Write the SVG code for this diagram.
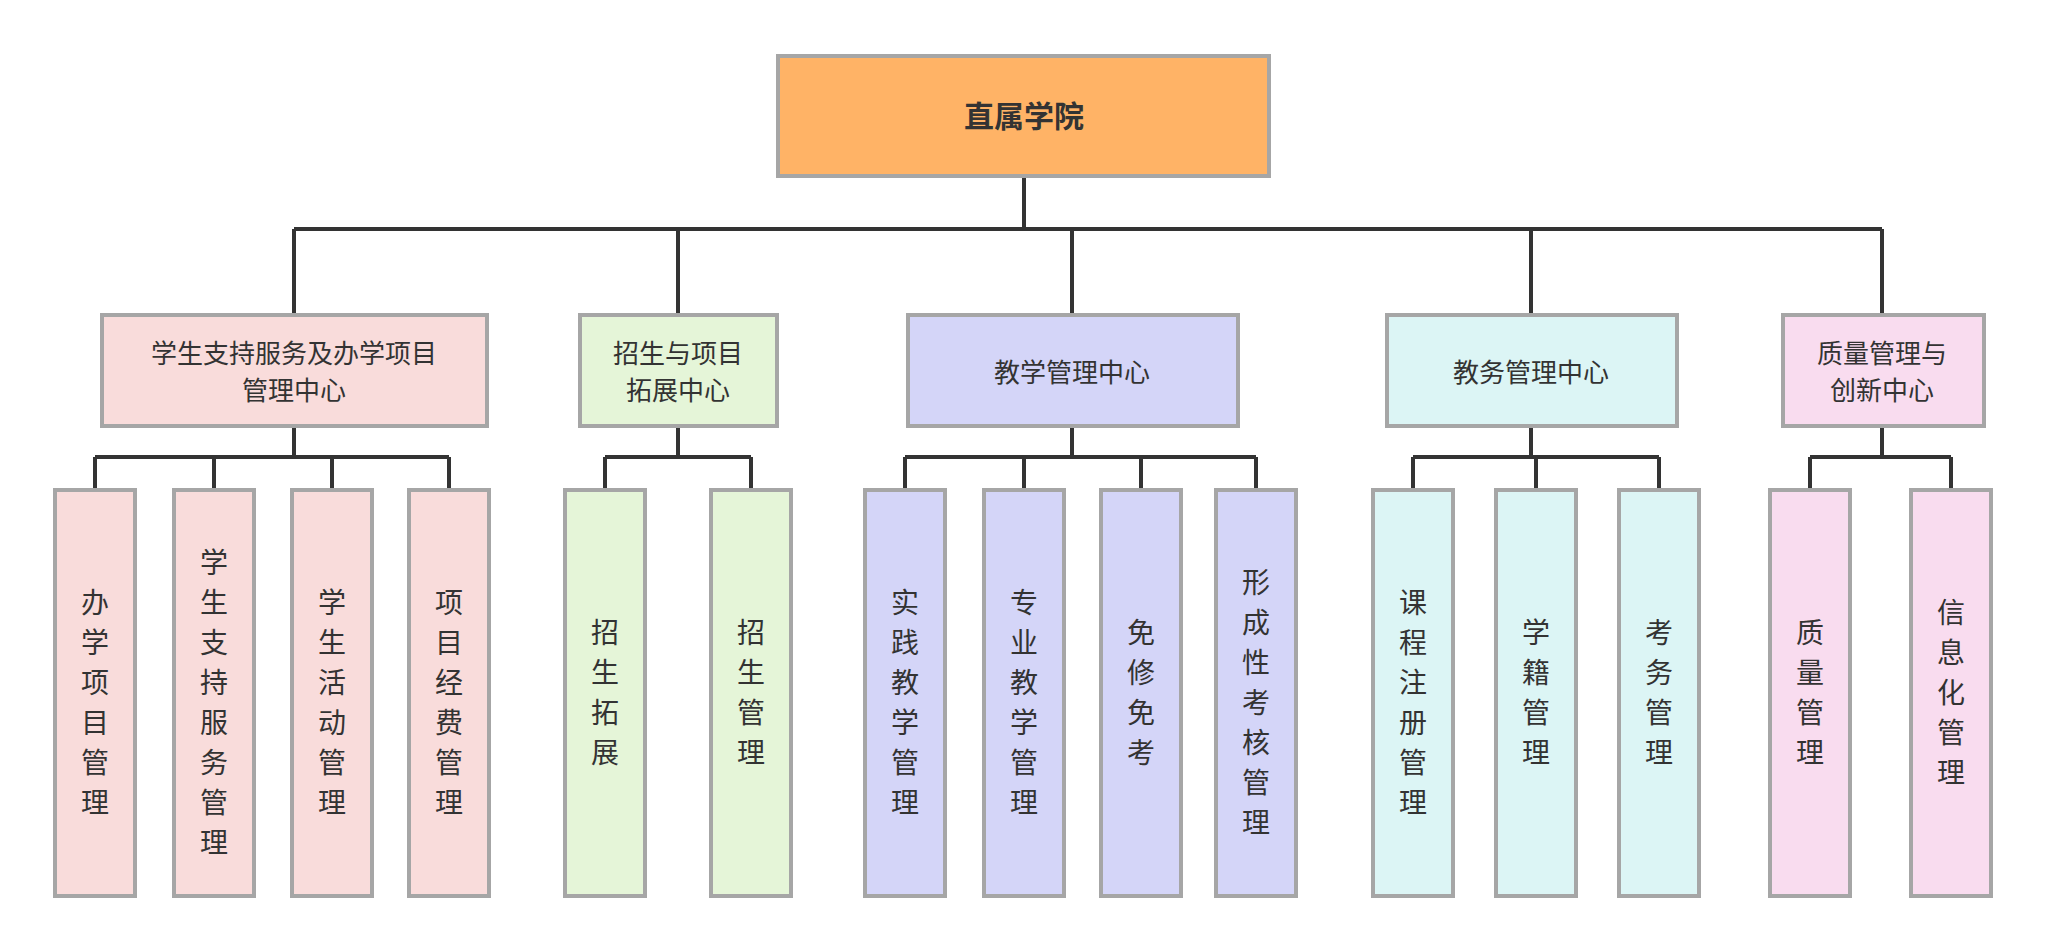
<svg xmlns="http://www.w3.org/2000/svg" width="2048" height="952" viewBox="0 0 2048 952">
<style>
text{font-family:"Noto Sans CJK SC","Noto Sans",sans-serif;fill:#333;text-anchor:middle}
.b{stroke:#a6a6a6;stroke-width:4}
.c1{fill:#f9dcdb}.c2{fill:#e5f5d8}.c3{fill:#d4d5f8}.c4{fill:#dcf5f5}.c5{fill:#f9dcef}
.m{font-size:26px}.l{font-size:28px}
#conn path{fill:none;stroke:#333;stroke-width:4}
</style>
<rect width="2048" height="952" fill="#fff"/>
<g id="conn">
<path d="M1024 176V229M294 229H1882M294 229V315M678 229V315M1072 229V315M1531 229V315M1882 229V315"/>
<path d="M294 426V457M95 457H449M95 457V490M214 457V490M332 457V490M449 457V490"/>
<path d="M678 426V457M605 457H751M605 457V490M751 457V490"/>
<path d="M1072 426V457M905 457H1256M905 457V490M1024 457V490M1141 457V490M1256 457V490"/>
<path d="M1531 426V457M1413 457H1659M1413 457V490M1536 457V490M1659 457V490"/>
<path d="M1882 426V457M1810 457H1951M1810 457V490M1951 457V490"/>
</g>
<g id="root"><rect class="b" x="778" y="56" width="491" height="120" fill="#ffb366"/><text x="1024" y="127" font-size="30" font-weight="bold">直属学院</text></g>
<g id="A"><rect class="b c1" x="102" y="315" width="385" height="111"/><text class="m" x="294" y="363">学生支持服务及办学项目</text><text class="m" x="294" y="400">管理中心</text></g>
<g id="B"><rect class="b c2" x="580" y="315" width="197" height="111"/><text class="m" x="678" y="363">招生与项目</text><text class="m" x="678" y="400">拓展中心</text></g>
<g id="C"><rect class="b c3" x="908" y="315" width="330" height="111"/><text class="m" x="1072" y="382">教学管理中心</text></g>
<g id="D"><rect class="b c4" x="1387" y="315" width="290" height="111"/><text class="m" x="1531" y="382">教务管理中心</text></g>
<g id="E"><rect class="b c5" x="1783" y="315" width="201" height="111"/><text class="m" x="1882" y="363">质量管理与</text><text class="m" x="1882" y="400">创新中心</text></g>
<g id="l1"><rect class="b c1" x="55" y="490" width="80" height="406"/><text class="l" x="95"><tspan x="95" y="613">办</tspan><tspan x="95" dy="40">学</tspan><tspan x="95" dy="40">项</tspan><tspan x="95" dy="40">目</tspan><tspan x="95" dy="40">管</tspan><tspan x="95" dy="40">理</tspan></text></g>
<g id="l2"><rect class="b c1" x="174" y="490" width="80" height="406"/><text class="l"><tspan x="214" y="573">学</tspan><tspan x="214" dy="40">生</tspan><tspan x="214" dy="40">支</tspan><tspan x="214" dy="40">持</tspan><tspan x="214" dy="40">服</tspan><tspan x="214" dy="40">务</tspan><tspan x="214" dy="40">管</tspan><tspan x="214" dy="40">理</tspan></text></g>
<g id="l3"><rect class="b c1" x="292" y="490" width="80" height="406"/><text class="l"><tspan x="332" y="613">学</tspan><tspan x="332" dy="40">生</tspan><tspan x="332" dy="40">活</tspan><tspan x="332" dy="40">动</tspan><tspan x="332" dy="40">管</tspan><tspan x="332" dy="40">理</tspan></text></g>
<g id="l4"><rect class="b c1" x="409" y="490" width="80" height="406"/><text class="l"><tspan x="449" y="613">项</tspan><tspan x="449" dy="40">目</tspan><tspan x="449" dy="40">经</tspan><tspan x="449" dy="40">费</tspan><tspan x="449" dy="40">管</tspan><tspan x="449" dy="40">理</tspan></text></g>
<g id="l5"><rect class="b c2" x="565" y="490" width="80" height="406"/><text class="l"><tspan x="605" y="643">招</tspan><tspan x="605" dy="40">生</tspan><tspan x="605" dy="40">拓</tspan><tspan x="605" dy="40">展</tspan></text></g>
<g id="l6"><rect class="b c2" x="711" y="490" width="80" height="406"/><text class="l"><tspan x="751" y="643">招</tspan><tspan x="751" dy="40">生</tspan><tspan x="751" dy="40">管</tspan><tspan x="751" dy="40">理</tspan></text></g>
<g id="l7"><rect class="b c3" x="865" y="490" width="80" height="406"/><text class="l"><tspan x="905" y="613">实</tspan><tspan x="905" dy="40">践</tspan><tspan x="905" dy="40">教</tspan><tspan x="905" dy="40">学</tspan><tspan x="905" dy="40">管</tspan><tspan x="905" dy="40">理</tspan></text></g>
<g id="l8"><rect class="b c3" x="984" y="490" width="80" height="406"/><text class="l"><tspan x="1024" y="613">专</tspan><tspan x="1024" dy="40">业</tspan><tspan x="1024" dy="40">教</tspan><tspan x="1024" dy="40">学</tspan><tspan x="1024" dy="40">管</tspan><tspan x="1024" dy="40">理</tspan></text></g>
<g id="l9"><rect class="b c3" x="1101" y="490" width="80" height="406"/><text class="l"><tspan x="1141" y="643">免</tspan><tspan x="1141" dy="40">修</tspan><tspan x="1141" dy="40">免</tspan><tspan x="1141" dy="40">考</tspan></text></g>
<g id="l10"><rect class="b c3" x="1216" y="490" width="80" height="406"/><text class="l"><tspan x="1256" y="593">形</tspan><tspan x="1256" dy="40">成</tspan><tspan x="1256" dy="40">性</tspan><tspan x="1256" dy="40">考</tspan><tspan x="1256" dy="40">核</tspan><tspan x="1256" dy="40">管</tspan><tspan x="1256" dy="40">理</tspan></text></g>
<g id="l11"><rect class="b c4" x="1373" y="490" width="80" height="406"/><text class="l"><tspan x="1413" y="613">课</tspan><tspan x="1413" dy="40">程</tspan><tspan x="1413" dy="40">注</tspan><tspan x="1413" dy="40">册</tspan><tspan x="1413" dy="40">管</tspan><tspan x="1413" dy="40">理</tspan></text></g>
<g id="l12"><rect class="b c4" x="1496" y="490" width="80" height="406"/><text class="l"><tspan x="1536" y="643">学</tspan><tspan x="1536" dy="40">籍</tspan><tspan x="1536" dy="40">管</tspan><tspan x="1536" dy="40">理</tspan></text></g>
<g id="l13"><rect class="b c4" x="1619" y="490" width="80" height="406"/><text class="l"><tspan x="1659" y="643">考</tspan><tspan x="1659" dy="40">务</tspan><tspan x="1659" dy="40">管</tspan><tspan x="1659" dy="40">理</tspan></text></g>
<g id="l14"><rect class="b c5" x="1770" y="490" width="80" height="406"/><text class="l"><tspan x="1810" y="643">质</tspan><tspan x="1810" dy="40">量</tspan><tspan x="1810" dy="40">管</tspan><tspan x="1810" dy="40">理</tspan></text></g>
<g id="l15"><rect class="b c5" x="1911" y="490" width="80" height="406"/><text class="l"><tspan x="1951" y="623">信</tspan><tspan x="1951" dy="40">息</tspan><tspan x="1951" dy="40">化</tspan><tspan x="1951" dy="40">管</tspan><tspan x="1951" dy="40">理</tspan></text></g>
</svg>
